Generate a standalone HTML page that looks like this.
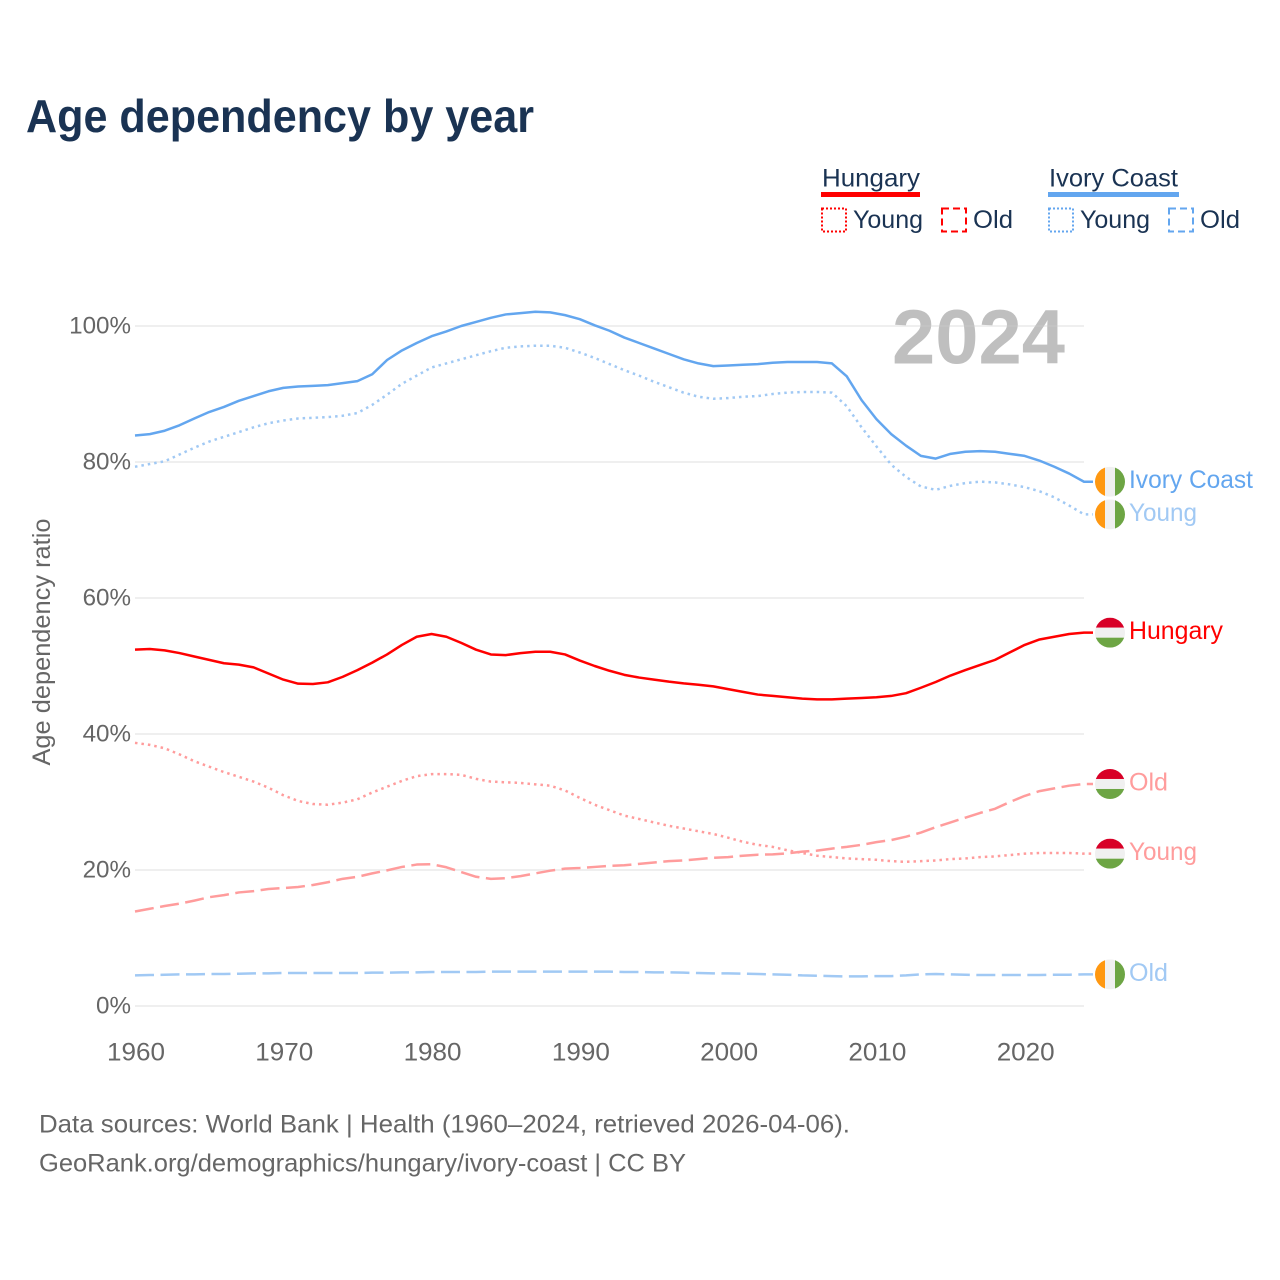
<!DOCTYPE html>
<html lang="en">
<head>
<meta charset="utf-8">
<title>Age dependency by year</title>
<style>
html,body{margin:0;padding:0;background:#fff;}
svg{display:block;font-family:"Liberation Sans",sans-serif;}
</style>
</head>
<body>
<svg id="chart" width="1280" height="1280" viewBox="0 0 1280 1280" xmlns="http://www.w3.org/2000/svg">
  <rect width="1280" height="1280" fill="#ffffff"/>
  <text x="26" y="132" font-size="46" font-weight="700" fill="#1a3353" textLength="508" lengthAdjust="spacingAndGlyphs">Age dependency by year</text>

  <g font-size="25" fill="#1a3353">
    <text x="822" y="186.500" textLength="98" lengthAdjust="spacingAndGlyphs">Hungary</text>
    <rect x="821" y="192" width="99" height="5" fill="#ff0000"/>
    <rect x="822" y="208.500" width="24" height="23" fill="none" stroke="#ff0000" stroke-width="2" stroke-dasharray="2 2"/>
    <text x="853" y="228" textLength="70" lengthAdjust="spacingAndGlyphs">Young</text>
    <rect x="942" y="208.500" width="24" height="23" fill="none" stroke="#ff0000" stroke-width="2" stroke-dasharray="7 4"/>
    <text x="973" y="228" textLength="40" lengthAdjust="spacingAndGlyphs">Old</text>
    <text x="1049" y="186.500" textLength="129" lengthAdjust="spacingAndGlyphs">Ivory Coast</text>
    <rect x="1048" y="192" width="131" height="5" fill="#63a6ef"/>
    <rect x="1049" y="208.500" width="24" height="23" fill="none" stroke="#63a6ef" stroke-width="2" stroke-dasharray="2 2"/>
    <text x="1080" y="228" textLength="70" lengthAdjust="spacingAndGlyphs">Young</text>
    <rect x="1169" y="208.500" width="24" height="23" fill="none" stroke="#63a6ef" stroke-width="2" stroke-dasharray="7 4"/>
    <text x="1200" y="228" textLength="40" lengthAdjust="spacingAndGlyphs">Old</text>
  </g>

  <text x="892" y="363.500" font-size="77" font-weight="700" fill="#bfbfbf" textLength="173" lengthAdjust="spacingAndGlyphs">2024</text>
  <g id="grid"></g>
  <g id="yticks" font-size="24.200" fill="#666666" text-anchor="end"></g>
  <g id="xticks" font-size="25" fill="#666666" text-anchor="middle"></g>
  <text transform="translate(50,642) rotate(-90)" font-size="25" fill="#666666" text-anchor="middle" textLength="247" lengthAdjust="spacingAndGlyphs">Age dependency ratio</text>

  <g id="series"></g>
  <g id="flags"></g>

  <text x="39" y="1132.500" font-size="25" fill="#666666" textLength="811" lengthAdjust="spacingAndGlyphs">Data sources: World Bank | Health (1960–2024, retrieved 2026-04-06).</text>
  <text x="39" y="1171.500" font-size="25" fill="#666666" textLength="647" lengthAdjust="spacingAndGlyphs">GeoRank.org/demographics/hungary/ivory-coast | CC BY</text>
</svg>
<script>
const firstYear = 1960;
const lastYear = 2024;
const xTickYears = [1960, 1970, 1980, 1990, 2000, 2010, 2020];
const yTickValues = [0, 20, 40, 60, 80, 100];

const ivoryTotal = [83.9,84.1,84.6,85.4,86.4,87.35,88.1,89.0,89.7,90.4,
  90.9,91.1,91.2,91.3,91.6,91.9,92.9,95.0,96.4,97.5,
  98.5,99.2,100.0,100.6,101.2,101.7,101.9,102.1,102.0,101.6,
  101.0,100.1,99.3,98.3,97.5,96.7,95.9,95.1,94.5,94.1,
  94.2,94.3,94.4,94.6,94.7,94.7,94.7,94.5,92.6,89.1,
  86.3,84.1,82.4,80.9,80.5,81.2,81.5,81.6,81.5,81.2,
  80.9,80.2,79.3,78.3,77.1];
const ivoryYoung = [79.3,79.7,80.1,81.1,82.1,83.0,83.7,84.4,85.1,85.7,
  86.1,86.4,86.5,86.6,86.8,87.2,88.4,89.9,91.5,92.7,
  93.9,94.5,95.1,95.7,96.3,96.8,97.0,97.1,97.1,96.8,
  96.1,95.3,94.4,93.5,92.7,91.8,91.0,90.2,89.6,89.3,
  89.4,89.6,89.7,90.0,90.2,90.3,90.3,90.2,88.2,85.1,
  82.3,79.6,77.8,76.4,75.9,76.5,76.9,77.1,77.0,76.7,
  76.3,75.7,74.8,73.6,72.3];
const ivoryOld = [4.5,4.55,4.6,4.65,4.65,4.7,4.7,4.75,4.8,4.8,
  4.85,4.85,4.85,4.85,4.85,4.85,4.9,4.9,4.95,4.95,
  5,5,5,5,5.05,5.05,5.05,5.05,5.05,5.05,
  5.05,5.05,5.05,5,5,4.95,4.95,4.9,4.85,4.8,
  4.8,4.75,4.7,4.65,4.6,4.5,4.45,4.4,4.35,4.35,
  4.4,4.4,4.5,4.65,4.7,4.65,4.6,4.55,4.55,4.55,
  4.55,4.55,4.6,4.6,4.65];
const hungaryTotal = [52.4,52.5,52.3,51.9,51.4,50.9,50.4,50.2,49.8,48.9,
  48.0,47.4,47.35,47.6,48.4,49.4,50.5,51.7,53.1,54.3,
  54.7,54.3,53.4,52.4,51.7,51.6,51.9,52.1,52.1,51.7,
  50.8,50.0,49.3,48.7,48.3,48.0,47.7,47.45,47.25,47.0,
  46.6,46.2,45.8,45.6,45.4,45.2,45.1,45.1,45.2,45.3,
  45.4,45.6,46.0,46.8,47.65,48.6,49.4,50.15,50.9,52.0,
  53.1,53.9,54.3,54.7,54.9];
const hungaryYoung = [38.7,38.4,37.9,37.0,36.0,35.2,34.4,33.7,33.0,32.1,
  31.0,30.15,29.7,29.6,29.9,30.4,31.4,32.25,33.1,33.8,
  34.1,34.1,34.0,33.4,33.0,32.9,32.8,32.6,32.4,31.7,
  30.6,29.6,28.8,28.0,27.5,27.0,26.5,26.1,25.7,25.3,
  24.75,24.15,23.7,23.4,22.9,22.5,22.1,21.9,21.7,21.6,
  21.5,21.3,21.2,21.3,21.4,21.6,21.7,21.9,22.0,22.2,
  22.4,22.5,22.5,22.5,22.4];
const hungaryOld = [13.9,14.3,14.7,15.05,15.5,16.0,16.3,16.7,16.9,17.2,
  17.35,17.5,17.8,18.2,18.7,19.0,19.5,19.95,20.45,20.8,
  20.85,20.4,19.7,19.0,18.7,18.8,19.1,19.5,19.9,20.2,
  20.3,20.45,20.6,20.7,20.9,21.1,21.3,21.4,21.6,21.8,
  21.9,22.1,22.25,22.3,22.45,22.7,22.85,23.15,23.4,23.7,
  24.1,24.4,24.9,25.5,26.3,27.0,27.7,28.4,29.0,30.0,
  30.9,31.6,32.0,32.4,32.65];

const NS = 'http://www.w3.org/2000/svg';
const plotLeft = 135, plotRight = 1084, y0 = 1006, y100 = 326, connectorEnd = 1093;
const xScale = function (year) { return plotLeft + (year - firstYear) * (plotRight - plotLeft) / (lastYear - firstYear); };
const yScale = function (v) { return y0 + v * (y100 - y0) / 100; };
const gridG = document.getElementById('grid');
const yG = document.getElementById('yticks');
const xG = document.getElementById('xticks');
const seriesG = document.getElementById('series');
const flagsG = document.getElementById('flags');

yTickValues.forEach(function (v) {
  const line = document.createElementNS(NS, 'line');
  
  
  line.setAttribute('x1', plotLeft);
  line.setAttribute('x2', plotRight);
  line.setAttribute('y1', yScale(v));
  line.setAttribute('y2', yScale(v));
  line.setAttribute('stroke', '#cccccc');
  line.setAttribute('stroke-opacity', '0.32');
  line.setAttribute('stroke-width', '2');
  gridG.appendChild(line);

  const label = document.createElementNS(NS, 'text');
  
  
  label.setAttribute('x', 131);
  label.setAttribute('y', yScale(v) + 7.5);
  label.textContent = v + '%';
  yG.appendChild(label);
});

xTickYears.forEach(function (year) {
  const label = document.createElementNS(NS, 'text');
  
  
  label.setAttribute('x', xScale(year) + 1);
  label.setAttribute('y', 1060.5);
  label.setAttribute('textLength', '58');
  label.setAttribute('lengthAdjust', 'spacingAndGlyphs');
  label.textContent = year;
  xG.appendChild(label);
});

function drawLine(values, name, color, dash) {
  let d = '';
  values.forEach(function (v, i) {
    d += (i ? 'L' : 'M') + xScale(firstYear + i).toFixed(2) + ' ' + yScale(v).toFixed(2);
  });
  d += 'L' + connectorEnd + ' ' + yScale(values[values.length - 1]).toFixed(2);
  const path = document.createElementNS(NS, 'path');
  
  
  path.setAttribute('d', d);
  path.setAttribute('fill', 'none');
  path.setAttribute('stroke', color);
  path.setAttribute('stroke-width', '2.5');
  path.setAttribute('stroke-linejoin', 'round');
  if (dash) { path.setAttribute('stroke-dasharray', dash); }
  seriesG.appendChild(path);
}

function drawFlag(value, name, country) {
  const cx = 1110, cy = yScale(value), r = 15;
  const g = document.createElementNS(NS, 'g');
  
  
  const clipId = 'clip-' + name;
  const clip = document.createElementNS(NS, 'clipPath');
  clip.setAttribute('id', clipId);
  const c = document.createElementNS(NS, 'circle');
  c.setAttribute('cx', cx);
  c.setAttribute('cy', cy);
  c.setAttribute('r', r);
  clip.appendChild(c);
  g.appendChild(clip);
  const colors = country === 'hu' ? ['#d80027', '#f0f0f0', '#6da544'] : ['#ff9811', '#f0f0f0', '#6da544'];
  colors.forEach(function (col, i) {
    const s = document.createElementNS(NS, 'rect');
    if (country === 'hu') {
      s.setAttribute('x', cx - r);
      s.setAttribute('y', cy - r + i * 10);
      s.setAttribute('width', 2 * r);
      s.setAttribute('height', 10);
    } else {
      s.setAttribute('x', cx - r + i * 10);
      s.setAttribute('y', cy - r);
      s.setAttribute('width', 10);
      s.setAttribute('height', 2 * r);
    }
    s.setAttribute('fill', col);
    s.setAttribute('clip-path', 'url(#' + clipId + ')');
    g.appendChild(s);
  });
  flagsG.appendChild(g);
}

function drawEndLabel(value, name, text, color, width) {
  const t = document.createElementNS(NS, 'text');
  
  
  t.setAttribute('x', 1129);
  t.setAttribute('y', yScale(value) + 6.5);
  t.setAttribute('font-size', '25');
  t.setAttribute('fill', color);
  t.setAttribute('textLength', width);
  t.setAttribute('lengthAdjust', 'spacingAndGlyphs');
  t.textContent = text;
  flagsG.appendChild(t);
}

const dotted = '2.5 4';
const dashed = '19 6.5';
drawLine(ivoryOld, 'line-ivory-coast-old', '#a1c9f4', dashed);
drawLine(ivoryYoung, 'line-ivory-coast-young', '#a1c9f4', dotted);
drawLine(hungaryYoung, 'line-hungary-young', '#ff9c9c', dotted);
drawLine(hungaryOld, 'line-hungary-old', '#ff9c9c', dashed);
drawLine(ivoryTotal, 'line-ivory-coast-total', '#63a6ef', '');
drawLine(hungaryTotal, 'line-hungary-total', '#ff0000', '');

drawFlag(ivoryTotal[ivoryTotal.length - 1], 'flag-ivory-coast-total', 'ci');
drawFlag(ivoryYoung[ivoryYoung.length - 1], 'flag-ivory-coast-young', 'ci');
drawFlag(hungaryTotal[hungaryTotal.length - 1], 'flag-hungary-total', 'hu');
drawFlag(hungaryOld[hungaryOld.length - 1], 'flag-hungary-old', 'hu');
drawFlag(hungaryYoung[hungaryYoung.length - 1], 'flag-hungary-young', 'hu');
drawFlag(ivoryOld[ivoryOld.length - 1], 'flag-ivory-coast-old', 'ci');

drawEndLabel(ivoryTotal[ivoryTotal.length - 1], 'end-label-ivory-coast', 'Ivory Coast', '#63a6ef', 124);
drawEndLabel(ivoryYoung[ivoryYoung.length - 1], 'end-label-ivory-coast-young', 'Young', '#a1c9f4', 68);
drawEndLabel(hungaryTotal[hungaryTotal.length - 1], 'end-label-hungary', 'Hungary', '#ff0000', 94);
drawEndLabel(hungaryOld[hungaryOld.length - 1], 'end-label-hungary-old', 'Old', '#ff9c9c', 39);
drawEndLabel(hungaryYoung[hungaryYoung.length - 1], 'end-label-hungary-young', 'Young', '#ff9c9c', 68);
drawEndLabel(ivoryOld[ivoryOld.length - 1], 'end-label-ivory-coast-old', 'Old', '#a1c9f4', 39);
</script>
</body>
</html>
